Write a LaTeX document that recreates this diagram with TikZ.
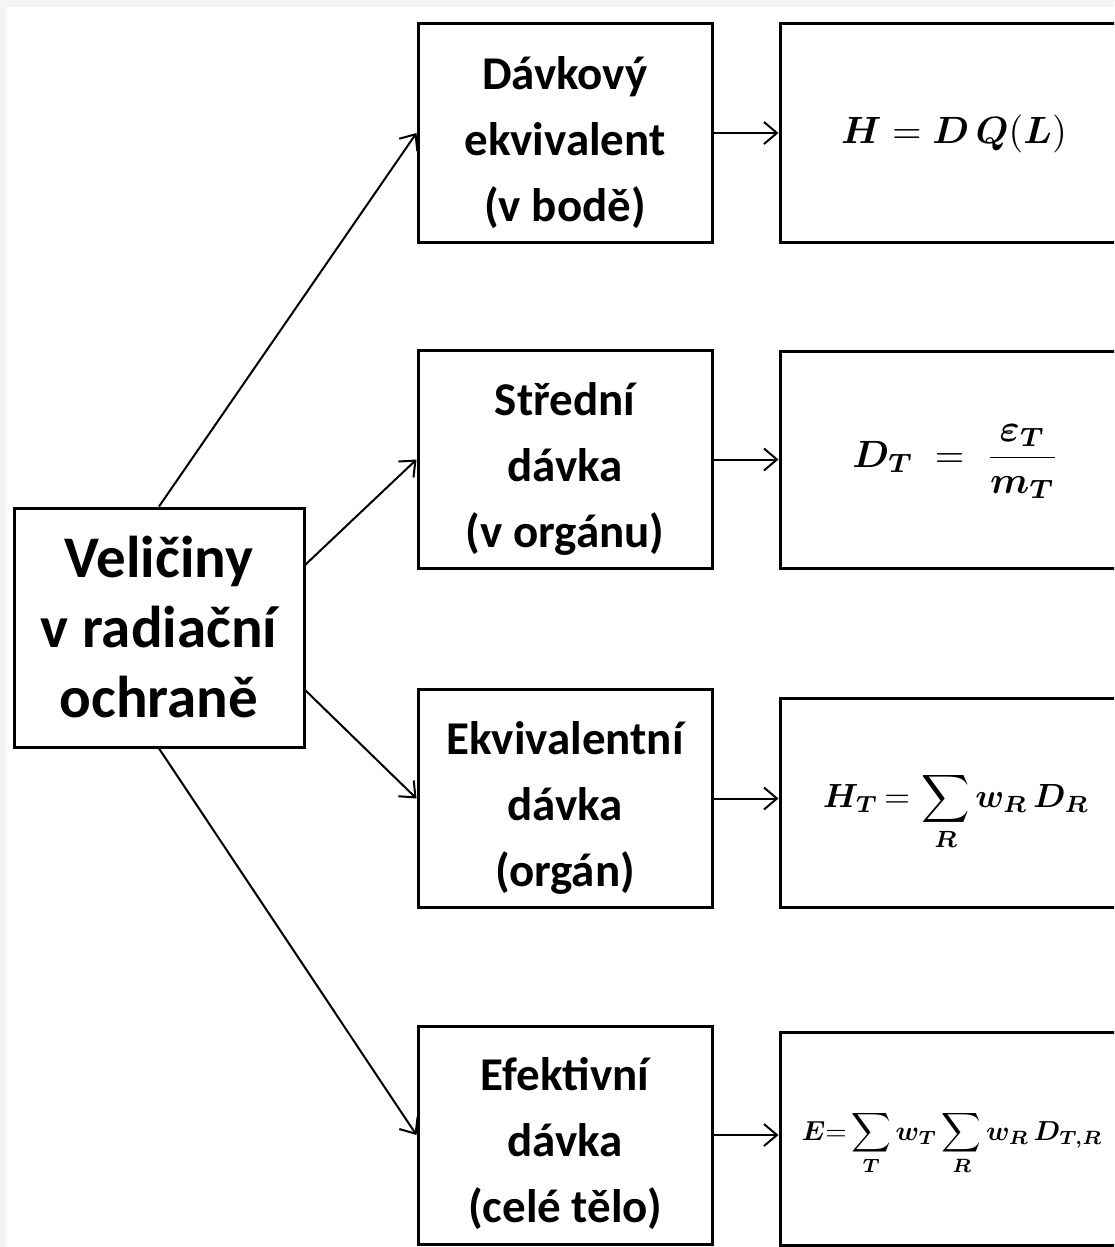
\documentclass[tikz,border=0pt]{standalone}
\usepackage{amsmath}
\usepackage{bm}
\usepackage{graphicx}
\usepackage{fontspec}
\setmainfont{Carlito}
\usetikzlibrary{arrows.meta,calc}
\definecolor{margingray}{HTML}{F4F4F4}
\begin{document}
\begin{tikzpicture}[x=1pt,y=-1pt,
  box/.style={draw=black,line width=3pt,rectangle,inner sep=0pt,align=center},
  midbox/.style={box,minimum width=294pt,minimum height=218pt},
  midtext/.style={inner sep=0pt,align=center,font=\fontsize{47}{66}\selectfont\bfseries},
  mainbox/.style={box,minimum width=290pt,minimum height=239pt,font=\fontsize{59}{70}\selectfont\bfseries},
  formbox/.style={box,minimum width=354pt},
  formtext/.style={inner sep=0pt,anchor=base},
  conn/.style={line width=2pt,-{Straight Barb[length=13pt,width=22pt,line width=2pt]}}]
\useasboundingbox (0,0) rectangle (1114,1247);
\fill[margingray] (0,0) rectangle (1114,1247);
\fill[white] (6,7) rectangle (1114,1247);
\begin{scope}
\clip (0,0) rectangle (1114,1247);
\node[mainbox] (main) at (159,627.5) {Veličiny\\v radiační\\ochraně};
\node[midbox] (b1) at (565,133) {};
\node[midbox] (b2) at (565,459.5) {};
\node[midbox] (b3) at (565,798.5) {};
\node[midbox] (b4) at (565,1135) {};
\node[midtext] (t1) at (565,143) {Dávkový\\ekvivalent\\(v bodě)};
\node[midtext] (t2) at (565,469) {Střední\\dávka\\(v orgánu)};
\node[midtext] (t3) at (565,808) {Ekvivalentní\\dávka\\(orgán)};
\node[midtext] (t4) at (565,1144) {Efektivní\\dávka\\(celé tělo)};
\node[formbox,minimum height=218pt] (r1) at (957,133) {};
\node[formbox,minimum height=217pt] (r2) at (957,459.5) {};
\node[formbox,minimum height=209pt] (r3) at (957,802.5) {};
\node[formbox,minimum height=213pt] (r4) at (957,1138.5) {};
\node[formtext] (f1) at (954,143) {\scalebox{3.8}{$\bm{H} = \bm{D}\,\bm{Q}(\bm{L})$}};
\node[formtext] (f2) at (956,467) {\scalebox{3.8}{$\bm{D_T} \;=\; \dfrac{\bm{\varepsilon_T}}{\bm{m_T}}$}};
\node[formtext] (f3) at (956,807) {\scalebox{3.35}{$\bm{H_T} \,{=}\, \displaystyle\sum_{\bm{R}} \bm{w_R}\, \bm{D_R}$}};
\node[formtext] (f4) at (952,1140) {\scalebox{2.75}{$\bm{E}{=}\displaystyle\sum_{\bm{T}} \bm{w_T} \sum_{\bm{R}} \bm{w_R}\, \bm{D_{T,R}}$}};
\end{scope}
\draw[conn] (main.north) -- (b1.west);
\draw[conn] ($(main.north east)!0.24!(main.south east)$) -- (b2.west);
\draw[conn] ($(main.north east)!0.76!(main.south east)$) -- (b3.west);
\draw[conn] (main.south) -- (b4.west);
\draw[conn] (b1.east) -- (r1.west |- b1.east);
\draw[conn] (b2.east) -- (r2.west |- b2.east);
\draw[conn] (b3.east) -- (r3.west |- b3.east);
\draw[conn] (b4.east) -- (r4.west |- b4.east);
\end{tikzpicture}
\end{document}
